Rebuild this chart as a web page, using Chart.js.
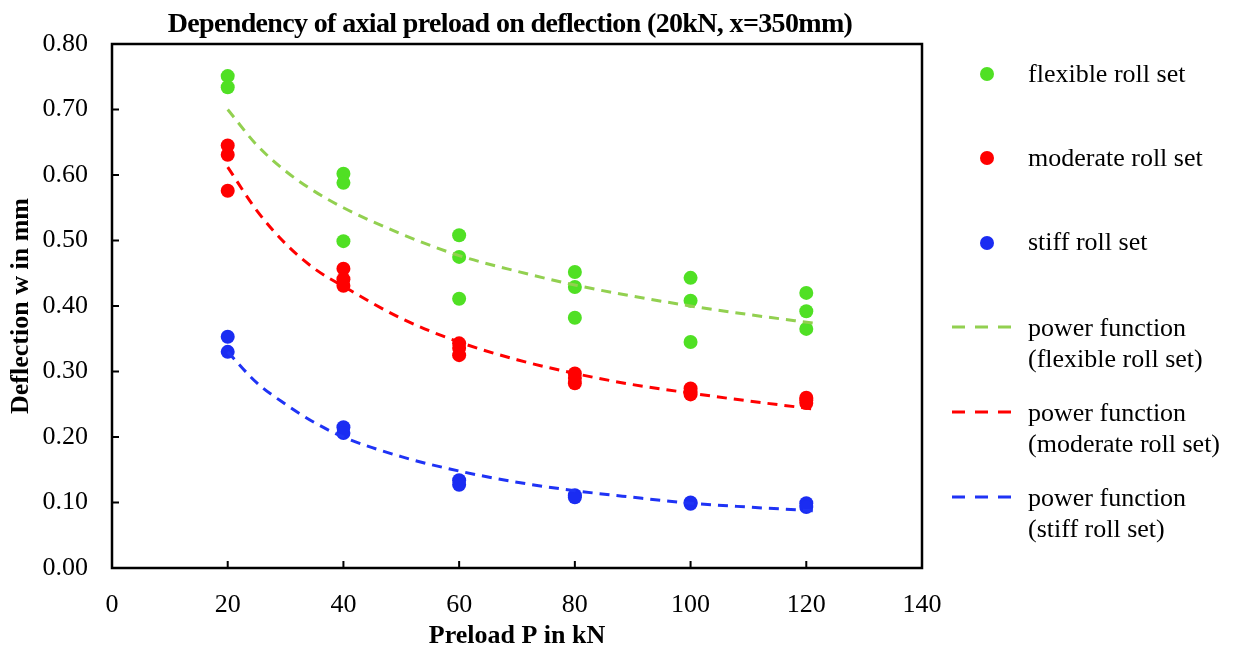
<!DOCTYPE html>
<html>
<head>
<meta charset="utf-8">
<script src="https://cdn.jsdelivr.net/npm/chart.js@4.4.0/dist/chart.umd.min.js"></script>
<style>
    body { margin: 0; background: #fff; }
    #wrap { position: relative; width: 1235px; height: 653px; font-family: "Liberation Serif", "Times New Roman", serif; }
    #grafico { position: absolute; left: 0; top: 0; }
    #titulo { position: absolute; left: 0; top: 7px; width: 1020px; text-align: center; font-weight: bold; font-size: 28px; line-height: 31px; letter-spacing: -0.65px; white-space: nowrap; color: #000; }
    .leg-txt { position: absolute; left: 1028px; font-size: 26px; line-height: 31px; color: #000; white-space: nowrap; }
    .leg-dot { position: absolute; width: 14px; height: 14px; border-radius: 50%; left: 980px; }
    .leg-line { position: absolute; left: 952px; width: 62px; height: 6px; }
</style>
</head>
<body>
<div id="wrap">
    <canvas id="grafico" width="1235" height="653"></canvas>
    <div id="titulo">Dependency of axial preload on deflection (20kN, x=350mm)</div>

    <div class="leg-dot" style="top:67px;background:#50e024"></div>
    <div class="leg-txt" style="top:58px">flexible roll set</div>
    <div class="leg-dot" style="top:151px;background:#ff0000"></div>
    <div class="leg-txt" style="top:142px">moderate roll set</div>
    <div class="leg-dot" style="top:236px;background:#1a2cf2"></div>
    <div class="leg-txt" style="top:226px">stiff roll set</div>

    <svg class="leg-line" style="top:324px"><line x1="0" y1="3" x2="62" y2="3" stroke="#92d050" stroke-width="3" stroke-dasharray="13 10"/></svg>
    <div class="leg-txt" style="top:312px">power function<br>(flexible roll set)</div>
    <svg class="leg-line" style="top:409px"><line x1="0" y1="3" x2="62" y2="3" stroke="#ff0000" stroke-width="3" stroke-dasharray="13 10"/></svg>
    <div class="leg-txt" style="top:397px">power function<br>(moderate roll set)</div>
    <svg class="leg-line" style="top:494px"><line x1="0" y1="3" x2="62" y2="3" stroke="#1f33f5" stroke-width="3" stroke-dasharray="13 10"/></svg>
    <div class="leg-txt" style="top:482px">power function<br>(stiff roll set)</div>
</div>

<script>
const cargaFlexivel = [20, 20, 40, 40, 40, 60, 60, 60, 80, 80, 80, 100, 100, 100, 120, 120, 120];
const deflexaoFlexivel = [0.751, 0.734, 0.602, 0.588, 0.499, 0.508, 0.475, 0.411, 0.452, 0.429, 0.382, 0.443, 0.408, 0.345, 0.420, 0.392, 0.365];

const cargaModerada = [20, 20, 20, 40, 40, 40, 60, 60, 60, 80, 80, 80, 100, 100, 100, 120, 120, 120];
const deflexaoModerada = [0.645, 0.631, 0.576, 0.457, 0.441, 0.431, 0.343, 0.336, 0.325, 0.297, 0.290, 0.282, 0.274, 0.269, 0.265, 0.260, 0.256, 0.252];

const cargaRigida = [20, 20, 40, 40, 60, 60, 80, 80, 100, 100, 120, 120];
const deflexaoRigida = [0.353, 0.330, 0.215, 0.206, 0.134, 0.127, 0.111, 0.108, 0.100, 0.098, 0.099, 0.093];

// Linhas de tendência (função potência) lidas ponto a ponto da imagem
const cargaTendencia = [20, 25, 30, 35, 40, 50, 60, 70, 80, 90, 100, 110, 122];
const tendenciaFlexivel = [0.700, 0.646, 0.606, 0.575, 0.550, 0.510, 0.477, 0.453, 0.432, 0.415, 0.400, 0.387, 0.373];
const tendenciaModerada = [0.612, 0.546, 0.495, 0.457, 0.430, 0.381, 0.345, 0.318, 0.297, 0.280, 0.267, 0.255, 0.242];
const tendenciaRigida = [0.330, 0.283, 0.250, 0.222, 0.200, 0.170, 0.148, 0.131, 0.118, 0.108, 0.099, 0.093, 0.087];

const ticksX = [0, 20, 40, 60, 80, 100, 120, 140];
const ticksY = [0, 0.1, 0.2, 0.3, 0.4, 0.5, 0.6, 0.7, 0.8];

const fonte = "'Liberation Serif', 'Times New Roman', serif";

function pares(xs, ys) {
    return xs.map((x, i) => ({ x: x, y: ys[i] }));
}

function serieTendencia(ys, cor) {
    return {
        type: 'line',
        data: pares(cargaTendencia, ys),
        borderColor: cor,
        borderWidth: 3,
        borderDash: [10, 7],
        pointRadius: 0,
        fill: false,
        cubicInterpolationMode: 'monotone',
        order: 0
    };
}

function seriePontos(xs, ys, cor) {
    return {
        type: 'scatter',
        data: pares(xs, ys),
        backgroundColor: cor,
        borderColor: cor,
        pointRadius: 7,
        pointBorderWidth: 0,
        order: 1
    };
}

// Moldura da área do gráfico + marcas dos eixos voltadas para dentro
const moldura = {
    id: 'moldura',
    afterDatasetsDraw(chart) {
        const { ctx, chartArea: a, scales: { x, y } } = chart;
        ctx.save();
        ctx.strokeStyle = '#000';
        ctx.lineWidth = 2.5;
        ctx.strokeRect(a.left, a.top, a.right - a.left, a.bottom - a.top);
        ctx.lineWidth = 2;
        ctx.beginPath();
        ticksX.forEach(v => {
            const px = x.getPixelForValue(v);
            ctx.moveTo(px, a.bottom);
            ctx.lineTo(px, a.bottom - 7);
        });
        ticksY.forEach(v => {
            const py = y.getPixelForValue(v);
            ctx.moveTo(a.left, py);
            ctx.lineTo(a.left + 7, py);
        });
        ctx.stroke();
        ctx.restore();
    }
};

const grafico = new Chart(document.getElementById('grafico'), {
    type: 'scatter',
    data: {
        datasets: [
            seriePontos(cargaFlexivel, deflexaoFlexivel, '#50e024'),
            seriePontos(cargaModerada, deflexaoModerada, '#ff0000'),
            seriePontos(cargaRigida, deflexaoRigida, '#1a2cf2'),
            serieTendencia(tendenciaFlexivel, '#92d050'),
            serieTendencia(tendenciaModerada, '#ff0000'),
            serieTendencia(tendenciaRigida, '#1f33f5')
        ]
    },
    options: {
        responsive: false,
        animation: false,
        layout: { padding: { left: 0, right: 313, top: 44, bottom: 0 } },
        plugins: {
            legend: { display: false },
            tooltip: { enabled: false },
            title: { display: false }
        },
        scales: {
            x: {
                type: 'linear',
                min: 0,
                max: 140,
                afterFit: s => { s.height = 85; },
                afterBuildTicks: s => { s.ticks = ticksX.map(v => ({ value: v })); },
                grid: { display: false, drawTicks: false },
                border: { display: false },
                ticks: { color: '#000', padding: 22, font: { family: fonte, size: 26 } },
                title: {
                    display: true,
                    text: 'Preload P in kN',
                    color: '#000',
                    font: { family: fonte, size: 26, weight: 'bold' },
                    padding: { top: 0, bottom: 1 }
                }
            },
            y: {
                type: 'linear',
                min: 0,
                max: 0.8,
                afterFit: s => { s.width = 112; },
                afterBuildTicks: s => { s.ticks = ticksY.map(v => ({ value: v })); },
                grid: { display: false, drawTicks: false },
                border: { display: false },
                ticks: {
                    color: '#000',
                    padding: 24,
                    font: { family: fonte, size: 26 },
                    callback: v => v.toFixed(2)
                },
                title: {
                    display: true,
                    text: 'Deflection w in mm',
                    color: '#000',
                    font: { family: fonte, size: 26, weight: 'bold' },
                    padding: { top: 6, bottom: 0 }
                }
            }
        }
    },
    plugins: [moldura]
});
</script>
</body>
</html>
